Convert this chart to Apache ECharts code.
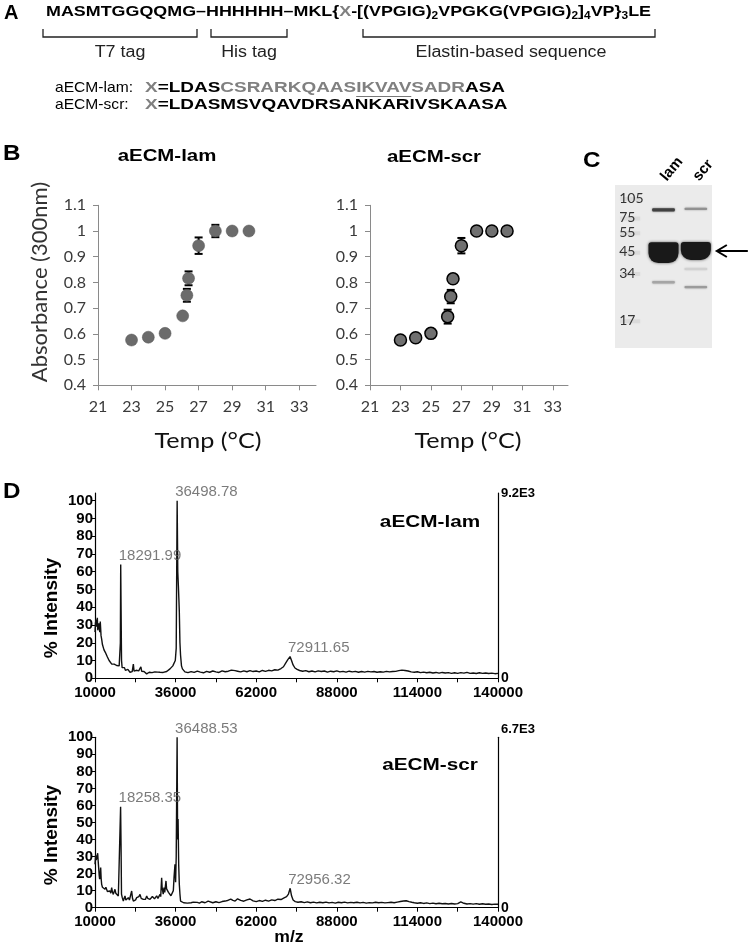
<!DOCTYPE html>
<html><head><meta charset="utf-8">
<script src="https://cdn.jsdelivr.net/npm/echarts@6.0.0/dist/echarts.min.js"></script>
<style>html,body{margin:0;padding:0;background:#fff;}#chart{width:750px;height:949px;}</style>
</head><body><div id="chart"></div>
<script>
// ---------------- Panel B : turbidity data ----------------
const tempLam = [23, 24, 25, 26.05, 26.3, 26.4, 27, 28, 29, 30];
const absLam  = [0.576, 0.587, 0.602, 0.670, 0.750, 0.816, 0.943, 1.0, 1.0, 1.0];
const errLam  = [0.004, 0.004, 0.004, 0.008, 0.025, 0.027, 0.032, 0.024, 0.004, 0.004];
const tempScr = [23, 24, 25, 26.1, 26.3, 26.45, 27, 28, 29, 30];
const absScr  = [0.576, 0.585, 0.602, 0.667, 0.745, 0.814, 0.943, 1.0, 1.0, 1.0];
const errScr  = [0.004, 0.004, 0.004, 0.027, 0.026, 0.008, 0.030, 0.008, 0.004, 0.004];
const tempTicks = [21, 23, 25, 27, 29, 31, 33];
const absTicks  = [0.4, 0.5, 0.6, 0.7, 0.8, 0.9, 1.0, 1.1];

// ---------------- Panel C : gel ----------------
const gelLanes = ['ladder', 'lam', 'scr'];
const ladderKDa = [105, 75, 55, 45, 34, 17];
const ladderMigration = [0.08, 0.20, 0.29, 0.41, 0.54, 0.83];
const bandLane      = [1, 1, 1, 2, 2, 2, 2];
const bandMigration = [0.153, 0.415, 0.597, 0.147, 0.405, 0.515, 0.626];
const bandIntensity = [0.8, 1.0, 0.3, 0.4, 1.0, 0.08, 0.35];
const bandSpread    = [0.02, 0.128, 0.016, 0.014, 0.11, 0.012, 0.014];

// ---------------- Panel D : MALDI spectra ----------------
const mzTicks = [10000, 36000, 62000, 88000, 114000, 140000];
const mzTickMarks = [10000, 23000, 36000, 49000, 62000, 75000, 88000, 101000, 114000, 127000, 140000];
const intTicks = [0, 10, 20, 30, 40, 50, 60, 70, 80, 90, 100];
const specLam = [
[10000,26],[10150,31],[10320,33],[10500,29],[10750,34],[10900,27],[11080,28],[11250,31],[11400,30],[11550,26],
[11700,32],[11830,31],[11950,24],[12150,22],[12400,19],[12690,18.5],[12900,16],[13230,15.7],[13500,14],[13760,13],
[14000,12],[14300,11],[14550,10],[14840,9],[15100,9.5],[15400,8],[15700,8.5],[15910,7.6],[16200,8],[16500,7],
[16990,7.2],[17300,6.5],[17530,8],[17800,7],[18050,6.3],[18180,20],[18291.99,64],[18420,38],[18560,10],[18750,6],
[19140,5.3],[19500,6],[19800,4.5],[20210,4.4],[20600,5],[20900,4],[21290,3.4],[21700,4.2],[22000,3.8],[22370,8],
[22600,4],[22900,3.5],[23300,4.5],[23700,5],[24100,4.2],[24520,4.4],[24800,6.5],[25050,4],[25400,3.2],[25800,3.8],
[26200,2.8],[26670,2.5],[27100,3],[27500,3.4],[28000,2.7],[28400,3.2],[28820,3],[29300,3.6],[29800,3.1],[30300,3.5],
[30970,3.4],[31500,3.9],[32000,3.3],[32600,4],[33120,3.8],[33600,4.4],[34190,5.3],[34700,5.5],[35100,7],[35500,8],
[35900,10],[36200,17],[36498.78,100],[36700,60],[36900,52],[37050,45],[37200,37.5],[37400,20],[37600,13],[37900,7],
[38200,5.3],[38600,4.2],[39000,3.6],[39500,3.4],[40000,3.2],[41000,3.8],[42000,3.3],[43000,4.0],[44000,3.5],[45000,3.1],
[46000,3.9],[47000,3.4],[48000,4.1],[49000,3.6],[50000,3.3],[51000,4.2],[52000,3.7],[53000,4.0],[54000,4.6],[54600,5.6],
[55200,4.3],[56000,4.0],[57000,3.6],[58000,4.2],[59000,3.7],[60000,4.3],[61000,3.8],[62000,4.1],[63000,3.6],[64000,4.4],
[65000,3.9],[66000,4.5],[67000,4.2],[68000,4.8],[69000,4.6],[70000,5.5],[70800,6.5],[71500,8.5],[72200,10.5],[72911.65,12.2],
[73400,10],[73900,7.5],[74500,5.8],[75200,5],[76000,4.4],[77000,4.0],[78000,4.3],[79000,3.7],[80000,4.1],[81000,3.6],
[82000,4.2],[83000,3.8],[84000,4.1],[85000,3.5],[86000,4.0],[87000,3.7],[88000,4.2],[89000,3.6],[90000,3.9],[91000,3.5],
[92000,4.0],[93000,3.6],[94000,3.9],[95000,3.4],[96000,3.8],[97000,3.5],[98000,3.9],[99000,3.6],[100000,3.8],[101000,3.4],
[102000,3.7],[103000,3.5],[104000,3.9],[105000,3.6],[106000,3.8],[107000,3.9],[108000,4.3],[109000,4.6],[110000,4.4],[111000,4.1],
[112000,3.6],[113000,3.4],[114000,3.7],[115000,3.2],[116000,3.5],[117000,3.1],[118000,3.4],[119000,3.0],[120000,3.3],[121000,2.9],
[122000,3.3],[123000,3.0],[124000,3.2],[125000,2.8],[126000,3.1],[127000,2.8],[128000,3.2],[129000,2.9],[130000,3.3],[131000,2.8],
[132000,3.0],[133000,2.7],[134000,3.1],[135000,2.8],[136000,3.0],[137000,2.7],[138000,2.9],[139000,2.6],[140000,2.8]
];
const specScr = [
[10000,25.5],[10215,31],[10400,28],[10540,27.5],[10700,30],[10860,32],[11000,28],[11180,23.5],[11350,19],[11500,16.7],
[11650,19],[11830,23.5],[11990,17],[12150,13.7],[12400,12],[12690,12.7],[12950,11],[13230,10.8],[13500,12],[13760,11.8],
[14000,9.5],[14300,8.8],[14550,10.5],[14840,9.8],[15100,8.5],[15380,11.8],[15650,9],[15910,7.8],[16200,9.5],[16450,10.8],
[16700,8.5],[16990,7.8],[17250,8.2],[17530,6.9],[17850,7.5],[18100,7],[18258.35,59.2],[18400,37.3],[18550,8],[18800,5.9],
[19140,3.9],[19400,5.5],[19680,6.9],[19950,4.5],[20210,3.9],[20500,5],[20750,5.9],[21100,4.5],[21500,5],[21830,9.8],
[22100,5.5],[22370,3.9],[22800,5],[23100,4.6],[23440,5.9],[23800,5],[24150,6.5],[24520,7.8],[24900,5.5],[25200,6],
[25590,4.9],[26000,5.8],[26300,5],[26670,6.9],[27000,5.5],[27400,6.2],[27740,4.9],[28100,5.9],[28500,6.6],[28820,5.9],
[29200,5.2],[29500,6],[29890,6.9],[30300,5.5],[30600,6.5],[30970,7.8],[31200,6.5],[31500,17.6],[31650,12],[31830,9.8],
[32000,8],[32260,11.8],[32500,9],[32700,12.5],[32900,15.7],[33100,11],[33330,11.8],[33700,9],[34190,9.8],[34500,7],
[34730,7.8],[35000,6.9],[35270,10],[35500,18],[35800,25.5],[36000,15],[36200,30],[36488.53,100],[36650,40],[36800,52],
[37000,25],[37200,13.7],[37400,8],[37600,3.9],[38000,3.2],[38600,2.9],[39200,3.3],[39800,2.7],[40400,3.4],[41000,2.9],
[41700,3.3],[42300,2.4],[43000,3.1],[43700,2.7],[44400,3.5],[45000,3.0],[45500,2.9],[46000,3.6],[46500,3.9],[47000,3.2],
[48000,2.9],[49000,3.5],[50000,3.0],[51000,3.6],[52000,3.9],[53000,4.4],[53800,5.0],[54500,4.3],[55200,3.9],[56000,5.2],
[57000,4.3],[58000,3.8],[59000,4.6],[60000,5.1],[61000,4.0],[62000,3.6],[63000,4.2],[64000,3.7],[65000,4.4],[66000,3.9],
[67000,4.6],[68000,4.2],[69000,5.0],[70000,4.8],[71000,5.8],[71800,6.5],[72400,8],[72956.32,11.4],[73400,7],[73900,4.5],
[74600,3.6],[75500,3.2],[76500,3.5],[77500,3.0],[78500,3.4],[79500,2.9],[80500,3.3],[81500,2.8],[82500,3.2],[83500,2.9],
[84500,3.3],[85500,2.8],[86500,3.1],[87500,2.7],[88500,3.2],[89500,2.9],[90500,3.3],[91500,2.8],[92500,3.1],[93500,2.9],
[94500,3.2],[95500,2.8],[96500,3.1],[97500,2.7],[98500,3.0],[99500,2.8],[100500,3.2],[101500,2.9],[102500,3.1],[103500,2.8],
[104500,3.0],[105500,3.2],[106500,2.9],[107500,3.3],[108500,3.6],[109500,3.9],[110400,4.1],[111300,3.6],[112200,3.2],[113000,2.9],
[114000,2.6],[115000,2.9],[116000,2.5],[117000,2.8],[118000,2.4],[119000,2.7],[120000,2.3],[121000,2.6],[122000,2.3],[123000,2.5],
[124000,2.2],[125000,2.5],[126000,2.2],[127000,2.4],[128000,3.4],[129000,2.6],[130000,2.2],[131000,2.4],[132000,2.1],[133000,2.4],
[134000,2.0],[135000,2.3],[136000,2.0],[137000,2.2],[138000,1.9],[139000,2.1],[140000,2.0]
];
const peakMzLam  = [18291.99, 36498.78, 72911.65];
const peakIntLam = [64, 100, 12.2];
const peakMzScr  = [18258.35, 36488.53, 72956.32];
const peakIntScr = [59.2, 100, 11.4];

// ---------------- Panel A : sequence text ----------------
const seqMain = 'MASMTGGQQMG–HHHHHH–MKL{X-[(VPGIG)VPGKG(VPGIG)]VP}LE';
const seqSubs = '2243';
const lamSeq = 'X=LDASCSRARKQAASIKVAVSADRASA';
const scrSeq = 'X=LDASMSVQAVDRSANKARIVSKAASA';

// ---------------- rendering ----------------
const F_ARIAL = "'Liberation Sans', Arial, Helvetica, sans-serif";
const F_CAL = "Lato, 'Open Sans', sans-serif";
const mctx = document.createElement('canvas').getContext('2d');
function tw(t, font) { mctx.font = font; return mctx.measureText(t).width; }

const seqFontSize = 15, subFontSize = 10;
const seqScale = (651 - 46) / (tw(seqMain, `bold ${seqFontSize}px ${F_ARIAL}`) + tw(seqSubs, `bold ${subFontSize}px ${F_ARIAL}`));
const lamScale = (505 - 145) / tw(lamSeq, `bold 15px ${F_ARIAL}`);
const lblScale = 78 / tw('aECM-lam:', `15px ${F_ARIAL}`);
const brScale = 191 / tw('Elastin-based sequence', `16px ${F_ARIAL}`);
const ulStart = 145 + lamScale * tw('X=LDASCSRARKQAAS', `bold 15px ${F_ARIAL}`);
const ulEnd = ulStart + lamScale * tw('IKVAV', `bold 15px ${F_ARIAL}`);

const chart = echarts.init(document.getElementById('chart'));

function T(x, y, text, font, extra) {
  const el = { type: 'text', x: x, y: y, z: 100, style: Object.assign({ text: text, font: font, fill: '#000', align: 'left', verticalAlign: 'middle' }, (extra && extra.style) || {}) };
  if (extra) { ['scaleX', 'rotation'].forEach(k => { if (extra[k] !== undefined) el[k] = extra[k]; }); }
  return el;
}
function bracket(x0, x1) {
  return { type: 'polyline', z: 100, shape: { points: [[x0, 29], [x0, 37], [x1, 37], [x1, 29]] }, style: { stroke: '#222', lineWidth: 1.3, fill: null } };
}

const seqRich = {
  g: { fontSize: seqFontSize, fontWeight: 'bold', fontFamily: F_ARIAL, fill: '#808080' },
  s: { fontSize: subFontSize, fontWeight: 'bold', fontFamily: F_ARIAL, fill: '#000', verticalAlign: 'bottom', lineHeight: 11 }
};
const lineRich = { g: { fontSize: 15, fontWeight: 'bold', fontFamily: F_ARIAL, fill: '#808080' } };

const graphics = [
  T(4, 13, 'A', `bold 20px ${F_ARIAL}`),
  T(46, 12, 'MASMTGGQQMG–HHHHHH–MKL{{g|X}-[(VPGIG){s|2}VPGKG(VPGIG){s|2}]{s|4}VP}{s|3}LE',
    `bold ${seqFontSize}px ${F_ARIAL}`, { scaleX: seqScale, style: { rich: seqRich, lineHeight: 18 } }),
  bracket(43, 197), bracket(211, 287), bracket(363, 655),
  T(120, 53, 'T7 tag', `16px ${F_ARIAL}`, { scaleX: brScale, style: { align: 'center', fill: '#222' } }),
  T(249, 53, 'His tag', `16px ${F_ARIAL}`, { scaleX: brScale, style: { align: 'center', fill: '#222' } }),
  T(511, 53, 'Elastin-based sequence', `16px ${F_ARIAL}`, { scaleX: brScale, style: { align: 'center', fill: '#222' } }),
  T(55, 88, 'aECM-lam:', `15px ${F_ARIAL}`, { scaleX: lblScale }),
  T(55, 105, 'aECM-scr:', `15px ${F_ARIAL}`, { scaleX: lblScale }),
  T(145, 88, '{g|X}=LDAS{g|CSRARKQAASIKVAVSADR}ASA', `bold 15px ${F_ARIAL}`, { scaleX: lamScale, style: { rich: lineRich } }),
  T(145, 105, '{g|X}=LDASMSVQAVDRSANKARIVSKAASA', `bold 15px ${F_ARIAL}`, { scaleX: lamScale, style: { rich: lineRich } }),
  { type: 'line', z: 100, shape: { x1: ulStart, y1: 96.5, x2: ulEnd, y2: 96.5 }, style: { stroke: '#777', lineWidth: 1.2 } },
  // panel B
  T(3, 154, 'B', `bold 22px ${F_ARIAL}`, { scaleX: 1.1 }),
  T(167, 156, 'aECM-lam', `bold 17px ${F_ARIAL}`, { scaleX: 1.2, style: { align: 'center' } }),
  T(434, 157, 'aECM-scr', `bold 17px ${F_ARIAL}`, { scaleX: 1.2, style: { align: 'center' } }),
  T(40, 282, 'Absorbance (300nm)', `22px ${F_CAL}`, { rotation: Math.PI / 2, style: { align: 'center', fill: '#333' } }),
  T(208, 441, 'Temp (°C)', `21px ${F_CAL}`, { scaleX: 1.2, style: { align: 'center', fill: '#111' } }),
  T(468, 441, 'Temp (°C)', `21px ${F_CAL}`, { scaleX: 1.2, style: { align: 'center', fill: '#111' } }),
  // panel C
  T(583, 161, 'C', `bold 22px ${F_ARIAL}`, { scaleX: 1.1 }),
  // panel D
  T(3, 492, 'D', `bold 22px ${F_ARIAL}`, { scaleX: 1.1 }),
  T(52, 608, '% Intensity', `bold 19px ${F_ARIAL}`, { rotation: Math.PI / 2, style: { align: 'center' } }),
  T(52, 835, '% Intensity', `bold 19px ${F_ARIAL}`, { rotation: Math.PI / 2, style: { align: 'center' } }),
  T(430, 522, 'aECM-lam', `bold 17px ${F_ARIAL}`, { scaleX: 1.22, style: { align: 'center' } }),
  T(430, 765, 'aECM-scr', `bold 17px ${F_ARIAL}`, { scaleX: 1.22, style: { align: 'center' } }),
  T(289, 938, 'm/z', `bold 16px ${F_ARIAL}`, { scaleX: 1.1, style: { align: 'center' } })
];

const axisGrey = '#8a8a8a';
function tempAxis(gi) {
  return { type: 'value', gridIndex: gi, min: 21, max: 34,
    axisLine: { show: true, lineStyle: { color: axisGrey, width: 1 } },
    axisTick: { show: true, length: 5, customValues: tempTicks, lineStyle: { color: axisGrey } },
    axisLabel: { customValues: tempTicks, margin: 14, fontFamily: F_CAL, fontSize: 16, color: '#3a3a3a' },
    splitLine: { show: false } };
}
function absAxis(gi) {
  return { type: 'value', gridIndex: gi, min: 0.4, max: 1.1,
    axisLine: { show: true, lineStyle: { color: axisGrey, width: 1 } },
    axisTick: { show: true, length: 5, customValues: absTicks, lineStyle: { color: axisGrey } },
    axisLabel: { customValues: absTicks, margin: 12, fontFamily: F_CAL, fontSize: 16, color: '#3a3a3a',
      formatter: v => String(Math.round(v * 10) / 10) },
    splitLine: { show: false } };
}
function mzAxis(gi) {
  return { type: 'value', gridIndex: gi, min: 10000, max: 140000,
    axisLine: { show: true, onZero: false, lineStyle: { color: '#000', width: 1.2 } },
    axisTick: { show: true, length: 4, customValues: mzTickMarks, lineStyle: { color: '#000' } },
    axisLabel: { customValues: mzTicks, margin: 7, fontFamily: F_ARIAL, fontSize: 15, fontWeight: 'bold', color: '#000',
      formatter: v => String(Math.round(v)) },
    splitLine: { show: false } };
}
function intAxis(gi, maxV) {
  return { type: 'value', gridIndex: gi, min: 0, max: maxV,
    axisLine: { show: true, lineStyle: { color: '#000', width: 1.2 } },
    axisTick: { show: true, length: 4, customValues: intTicks, lineStyle: { color: '#000' } },
    axisLabel: { customValues: intTicks, margin: 2, fontFamily: F_ARIAL, fontSize: 15, fontWeight: 'bold', color: '#000' },
    splitLine: { show: false } };
}
function rightAxis(gi, maxV, topLabel, lift) {
  return { type: 'value', gridIndex: gi, position: 'right', min: 0, max: maxV,
    axisLine: { show: true, lineStyle: { color: '#000', width: 1.2 } },
    axisTick: { show: false },
    axisLabel: { customValues: [0, maxV], margin: 3, fontFamily: F_ARIAL, fontWeight: 'bold', color: '#000', fontSize: 14,
      formatter: v => v === 0 ? '0' : '{t|' + topLabel + '}',
      rich: { t: { fontFamily: F_ARIAL, fontWeight: 'bold', fontSize: 13, color: '#000', padding: [0, 0, lift, 0] } } },
    splitLine: { show: false } };
}

function errRender(params, api) {
  const x = api.value(0), y = api.value(1), e = api.value(2);
  const p1 = api.coord([x, y + e]), p2 = api.coord([x, y - e]);
  const cw = 4;
  const st = { stroke: '#000', lineWidth: 2 };
  return { type: 'group', children: [
    { type: 'line', shape: { x1: p1[0], y1: p1[1], x2: p2[0], y2: p2[1] }, style: st },
    { type: 'line', shape: { x1: p1[0] - cw, y1: p1[1], x2: p1[0] + cw, y2: p1[1] }, style: st },
    { type: 'line', shape: { x1: p2[0] - cw, y1: p2[1], x2: p2[0] + cw, y2: p2[1] }, style: st }
  ] };
}

function bandRender(params, api) {
  const lane = api.value(0), mig = api.value(1), inten = api.value(2), spread = api.value(3);
  const c = api.coord([lane, mig]);
  const top = api.coord([lane, mig - spread / 2])[1];
  const bot = api.coord([lane, mig + spread / 2])[1];
  const big = spread > 0.05;
  const w = api.size([1, 0])[0] * (big ? 0.93 : 0.7);
  const h = Math.max(bot - top, 2);
  const g = Math.round(225 - inten * 200);
  return { type: 'rect',
    shape: { x: c[0] - w / 2, y: top, width: w, height: h, r: big ? [3, 3, 10, 10] : 1 },
    style: { fill: `rgb(${g},${g},${g})`, shadowBlur: big ? 3 : 2, shadowColor: `rgba(0,0,0,${0.15 + inten * 0.5})` } };
}
function ladderRender(params, api) {
  const c = api.coord([api.value(0), api.value(1)]);
  return { type: 'group', children: [
    { type: 'rect', shape: { x: c[0] - 11, y: c[1] - 1, width: 20, height: 4 },
      style: { fill: 'rgba(120,120,120,0.12)', shadowBlur: 4, shadowColor: 'rgba(0,0,0,0.2)' } },
    { type: 'text', x: c[0] - 12, y: c[1], style: { text: String(api.value(2)), font: `14px ${F_CAL}`, fill: '#333', align: 'left', verticalAlign: 'middle' } }
  ] };
}
function arrowRender(params, api) {
  const c = api.coord([api.value(0), api.value(1)]);
  const x0 = c[0] + 21, x1 = c[0] + 52, y = c[1];
  const st = { stroke: '#000', lineWidth: 2, fill: null };
  return { type: 'group', children: [
    { type: 'line', shape: { x1: x0 + 1, y1: y, x2: x1, y2: y }, style: st },
    { type: 'polyline', shape: { points: [[x0 + 10, y - 6], [x0, y], [x0 + 10, y + 6]] }, style: st }
  ] };
}

const option = {
  animation: false,
  backgroundColor: '#fff',
  graphic: graphics,
  grid: [
    { left: 98, top: 205.3, width: 218, height: 180 },
    { left: 370, top: 205.3, width: 198, height: 180 },
    { left: 615, top: 185, width: 97, height: 163, show: true, backgroundColor: '#ebebeb', borderWidth: 0 },
    { left: 95, top: 493, width: 403, height: 185.3 },
    { left: 95, top: 737.3, width: 403, height: 170.4 }
  ],
  xAxis: [
    tempAxis(0), tempAxis(1),
    { type: 'category', gridIndex: 2, data: gelLanes, position: 'top',
      axisLine: { show: false }, axisTick: { show: false }, splitLine: { show: false },
      axisLabel: { rotate: 50, margin: 6, interval: 0, fontFamily: F_ARIAL, fontSize: 15, fontWeight: 'bold', color: '#000',
        formatter: v => v === 'ladder' ? '' : v } },
    mzAxis(3), mzAxis(4)
  ],
  yAxis: [
    absAxis(0), absAxis(1),
    { type: 'value', gridIndex: 2, min: 0, max: 1, inverse: true, show: false },
    intAxis(3, 104.3), rightAxis(3, 104.3, '9.2E3', 0),
    intAxis(4, 100), rightAxis(4, 100, '6.7E3', 16)
  ],
  series: [
    { type: 'custom', xAxisIndex: 0, yAxisIndex: 0, z: 2, renderItem: errRender,
      data: tempLam.map((t, i) => [t, absLam[i], errLam[i]]) },
    { type: 'scatter', xAxisIndex: 0, yAxisIndex: 0, z: 3, symbol: 'circle', symbolSize: 12,
      itemStyle: { color: '#6b6b6b', borderColor: '#555', borderWidth: 0.5, opacity: 1 },
      data: tempLam.map((t, i) => [t, absLam[i]]) },
    { type: 'custom', xAxisIndex: 1, yAxisIndex: 1, z: 2, renderItem: errRender,
      data: tempScr.map((t, i) => [t, absScr[i], errScr[i]]) },
    { type: 'scatter', xAxisIndex: 1, yAxisIndex: 1, z: 3, symbol: 'circle', symbolSize: 12,
      itemStyle: { color: '#707070', borderColor: '#000', borderWidth: 1.5, opacity: 1 },
      data: tempScr.map((t, i) => [t, absScr[i]]) },
    { type: 'custom', xAxisIndex: 2, yAxisIndex: 2, z: 2, renderItem: bandRender,
      data: bandLane.map((l, i) => [l, bandMigration[i], bandIntensity[i], bandSpread[i]]) },
    { type: 'custom', xAxisIndex: 2, yAxisIndex: 2, z: 3, renderItem: ladderRender,
      data: ladderKDa.map((k, i) => [0, ladderMigration[i], k]) },
    { type: 'custom', xAxisIndex: 2, yAxisIndex: 2, z: 3, renderItem: arrowRender, clip: false,
      data: [[2, bandMigration[4]]] },
    { type: 'line', xAxisIndex: 3, yAxisIndex: 3, showSymbol: false, symbol: 'none', z: 2,
      lineStyle: { color: '#111', width: 1.4 }, data: specLam },
    { type: 'scatter', xAxisIndex: 3, yAxisIndex: 3, symbolSize: 0, z: 3,
      label: { show: true, position: 'top', distance: 1, align: 'left', offset: [-2, 0], formatter: p => p.value[0].toFixed(2),
        fontFamily: F_ARIAL, fontSize: 15, color: '#5a5a5a' },
      data: peakMzLam.map((m, i) => [m, peakIntLam[i]]) },
    { type: 'line', xAxisIndex: 4, yAxisIndex: 5, showSymbol: false, symbol: 'none', z: 2,
      lineStyle: { color: '#111', width: 1.4 }, data: specScr },
    { type: 'scatter', xAxisIndex: 4, yAxisIndex: 5, symbolSize: 0, z: 3,
      label: { show: true, position: 'top', distance: 1, align: 'left', offset: [-2, 0], formatter: p => p.value[0].toFixed(2),
        fontFamily: F_ARIAL, fontSize: 15, color: '#5a5a5a' },
      data: peakMzScr.map((m, i) => [m, peakIntScr[i]]) }
  ]
};
chart.setOption(option);
</script></body></html>
